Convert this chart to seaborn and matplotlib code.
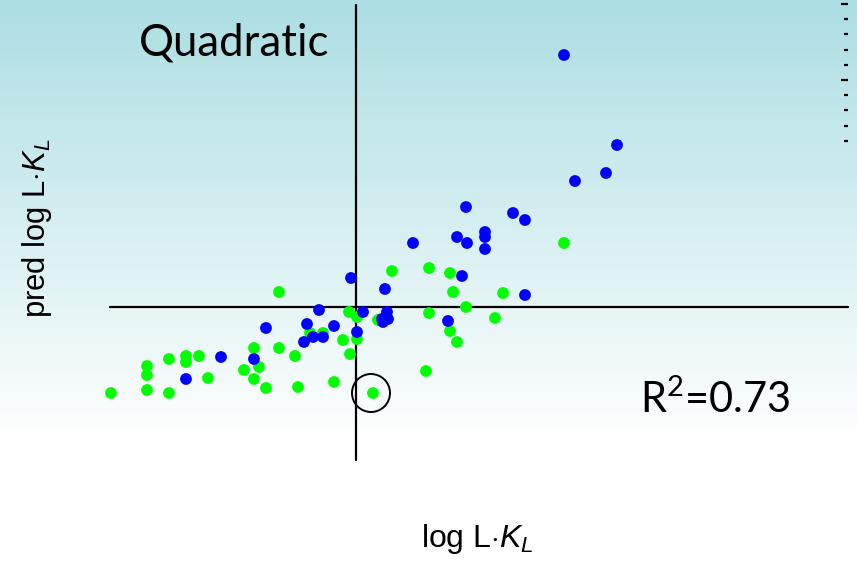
import numpy as np
import pandas as pd
import matplotlib
matplotlib.use("Agg")
import matplotlib.pyplot as plt
from matplotlib.patches import Circle
import seaborn as sns

# log L·K_L (x) vs predicted log L·K_L (y), two compound groups
blue_x = [2.08, 2.61, 2.50, 2.19, 1.10, 1.57, 1.69, 1.29, 1.29, 1.01, 0.57, 1.11,
          1.29, 1.06, -0.05, 0.29, 1.69, -0.37, 0.07, 0.31, 0.26, 0.32, 0.27, 0.92,
          -0.49, -0.22, -0.90, 0.01, -0.43, -0.33, -0.52, -1.35, -1.02, -1.70]
blue_y = [2.52, 1.62, 1.34, 1.26, 1.00, 0.94, 0.87, 0.75, 0.70, 0.70, 0.64, 0.64,
          0.58, 0.31, 0.29, 0.18, 0.12, -0.03, -0.05, -0.05, -0.12, -0.12, -0.15, -0.14,
          -0.17, -0.19, -0.21, -0.25, -0.30, -0.30, -0.35, -0.50, -0.52, -0.72]

green_x = [2.08, 1.47, 1.39, 0.36, 0.73, 0.94, 0.97, 1.10, 0.73, 0.94, 1.01, 0.70,
           0.17, -0.07, 0.01, 0.22, 0.01, -0.13, -0.06, -0.77, -0.46, -0.33, -0.77,
           -0.61, -1.02, -0.97, -1.12, -1.02, -0.90, -0.58, -0.22, -1.48, -1.57, -1.70,
           -1.70, -1.87, -1.87, -2.09, -2.09, -2.09, -2.45]
green_y = [0.64, 0.14, -0.11, 0.36, 0.39, 0.34, 0.15, 0.00, -0.06, -0.24, -0.35, -0.64,
           -0.86, -0.05, -0.10, -0.13, -0.32, -0.33, -0.47, 0.15, -0.26, -0.26, -0.41,
           -0.49, -0.41, -0.60, -0.63, -0.72, -0.81, -0.80, -0.75, -0.71, -0.49, -0.49,
           -0.55, -0.52, -0.86, -0.59, -0.68, -0.83, -0.86]

# highlighted outlier (circled)
outlier_x, outlier_y = 0.15, -0.86

title_text = "Quadratic"
r2_text = r"R$^{2}$=0.73"
x_label = r"log L$\cdot$$K_L$"
y_label = r"pred log L$\cdot$$K_L$"

df = pd.concat([
    pd.DataFrame({"x": green_x, "y": green_y, "group": "green"}),
    pd.DataFrame({"x": blue_x, "y": blue_y, "group": "blue"}),
], ignore_index=True)

sns.set_theme(style="white")
plt.rcParams["mathtext.fontset"] = "custom"
plt.rcParams["mathtext.rm"] = "Lato"
plt.rcParams["mathtext.it"] = "Liberation Sans:italic"

W, H = 857, 561
fig = plt.figure(figsize=(W / 100, H / 100), dpi=100)
ax = fig.add_axes([0, 0, 1, 1])
x0, x1 = -3.56, 5.01
y0, y1 = -2.54, 3.07
ax.set_xlim(x0, x1)
ax.set_ylim(y0, y1)
ax.set_axis_off()

# vertical teal-to-white background fade
top = np.array([172, 222, 227]) / 255.0
rows = np.linspace(0, 1, 400)[:, None]          # 0 at top, 1 at bottom
frac = np.clip(rows / (440 / 561), 0, 1)
grad = top[None, :] * (1 - frac) + 1.0 * frac
ax.imshow(grad[:, None, :], extent=(x0, x1, y0, y1), aspect="auto",
          origin="upper", zorder=0)

# crossing axes lines
ax.plot([-2.46, 4.92], [0, 0], color="black", lw=1.6, zorder=1)
ax.plot([0, 0], [-1.53, 3.02], color="black", lw=1.6, zorder=1)

sns.scatterplot(data=df, x="x", y="y", hue="group",
                palette={"green": "#00ff00", "blue": "#0000ff"},
                s=72, linewidth=0, legend=False, ax=ax, zorder=3)

ax.add_patch(Circle((outlier_x, outlier_y), 0.19, fill=False,
                    edgecolor="black", lw=1.4, zorder=4))

# small ruler ticks at the right edge
ruler_top, ruler_step = 3.03, 0.152
for i in range(10):
    yy = ruler_top - i * ruler_step
    xs = (4.85, 4.92) if i % 5 == 0 else (4.875, 4.92)
    ax.plot(xs, [yy, yy], color="black", lw=1.6, solid_capstyle="butt", zorder=2)

fig.text(139 / W, 1 - 55 / H, title_text, fontsize=31.5, family="Lato",
         ha="left", va="baseline", color="black")
fig.text(640 / W, 1 - 413 / H, r2_text, fontsize=30, family="Lato",
         ha="left", va="baseline", color="black")
fig.text(477 / W, 1 - 539 / H, x_label, fontsize=23, family="Liberation Sans",
         ha="center", va="center", color="black")
fig.text(37 / W, 1 - 228 / H, y_label, fontsize=22.3, family="Liberation Sans",
         rotation=90, ha="center", va="center", color="black")

fig.savefig("out.png", dpi=100)
